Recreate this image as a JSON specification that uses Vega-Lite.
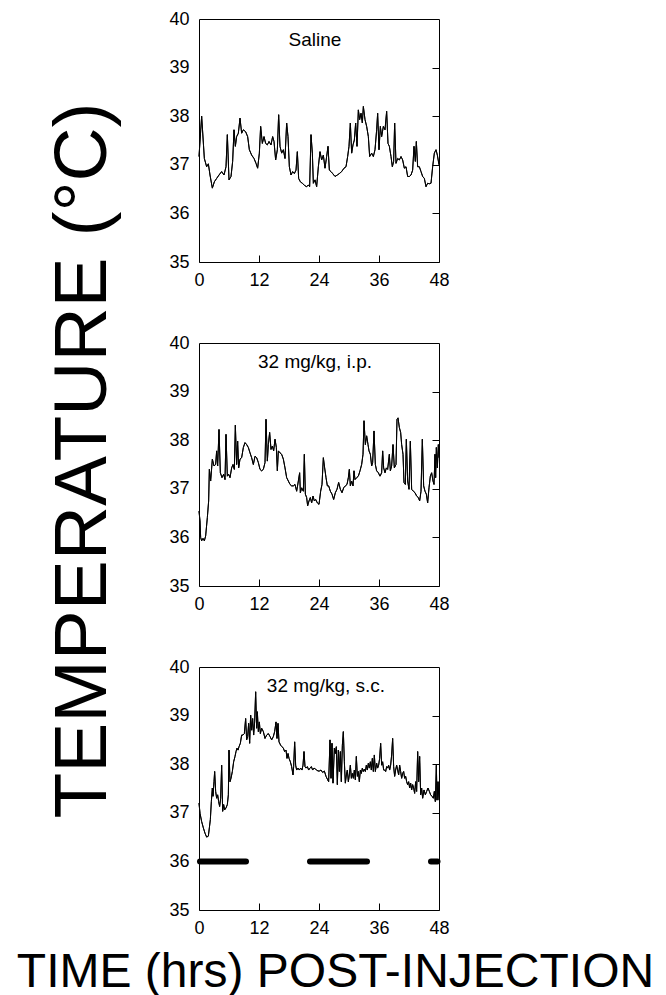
{
  "$schema": "https://vega.github.io/schema/vega-lite/v6.json",
  "autosize": {"type": "pad"},
  "padding": {"left": 15, "top": 9, "right": 5, "bottom": 0},
  "background": "white",
  "bounds": "flush",
  "spacing": 81,
  "datasets": {
    "p1": [
      {"hour":0,"temp":37.17},{"hour":0.53,"temp":38.0},{"hour":1.07,"temp":37.13},{"hour":1.53,"temp":36.96},{"hour":1.87,"temp":37.02},{"hour":2.2,"temp":36.79},{"hour":2.67,"temp":36.52},{"hour":3.07,"temp":36.65},{"hour":3.53,"temp":36.72},{"hour":4.0,"temp":36.79},{"hour":4.53,"temp":36.86},{"hour":5.0,"temp":36.79},{"hour":5.4,"temp":36.96},{"hour":5.67,"temp":37.62},{"hour":6.0,"temp":36.69},{"hour":6.4,"temp":36.76},{"hour":6.73,"temp":37.07},{"hour":7.0,"temp":37.72},{"hour":7.27,"temp":37.38},{"hour":7.53,"temp":37.58},{"hour":7.87,"temp":37.65},{"hour":8.2,"temp":37.96},{"hour":8.53,"temp":37.65},{"hour":8.87,"temp":37.72},{"hour":9.33,"temp":37.68},{"hour":9.73,"temp":37.58},{"hour":10.07,"temp":37.31},{"hour":10.53,"temp":37.2},{"hour":11.0,"temp":37.13},{"hour":11.4,"temp":37.03},{"hour":11.73,"temp":36.93},{"hour":12.07,"temp":37.24},{"hour":12.33,"temp":37.79},{"hour":12.67,"temp":37.44},{"hour":13.0,"temp":37.58},{"hour":13.33,"temp":37.44},{"hour":13.67,"temp":37.41},{"hour":14.0,"temp":37.48},{"hour":14.4,"temp":37.41},{"hour":14.73,"temp":37.58},{"hour":15.0,"temp":37.48},{"hour":15.33,"temp":37.1},{"hour":15.67,"temp":37.31},{"hour":15.93,"temp":38.03},{"hour":16.2,"temp":37.38},{"hour":16.53,"temp":37.24},{"hour":16.87,"temp":37.31},{"hour":17.2,"temp":37.13},{"hour":17.53,"temp":37.86},{"hour":17.8,"temp":37.58},{"hour":18.07,"temp":36.96},{"hour":18.4,"temp":36.79},{"hour":18.73,"temp":36.86},{"hour":19.07,"temp":36.82},{"hour":19.4,"temp":36.89},{"hour":19.67,"temp":37.27},{"hour":19.93,"temp":36.72},{"hour":20.27,"temp":36.65},{"hour":20.67,"temp":36.62},{"hour":21.07,"temp":36.58},{"hour":21.47,"temp":36.55},{"hour":21.87,"temp":36.58},{"hour":22.13,"temp":36.55},{"hour":22.4,"temp":37.62},{"hour":22.67,"temp":37.24},{"hour":22.87,"temp":36.62},{"hour":23.2,"temp":36.69},{"hour":23.53,"temp":36.55},{"hour":23.87,"temp":36.96},{"hour":24.2,"temp":37.27},{"hour":24.53,"temp":37.1},{"hour":24.87,"temp":37.2},{"hour":25.2,"temp":36.93},{"hour":25.53,"temp":37.17},{"hour":25.8,"temp":37.38},{"hour":26.07,"temp":36.89},{"hour":26.4,"temp":36.86},{"hour":26.73,"temp":36.82},{"hour":27.2,"temp":36.76},{"hour":27.67,"temp":36.79},{"hour":28.07,"temp":36.82},{"hour":28.53,"temp":36.86},{"hour":29.0,"temp":36.93},{"hour":29.4,"temp":36.96},{"hour":29.73,"temp":37.17},{"hour":30.0,"temp":37.38},{"hour":30.27,"temp":37.86},{"hour":30.53,"temp":37.24},{"hour":30.8,"temp":37.41},{"hour":31.07,"temp":37.51},{"hour":31.33,"temp":37.86},{"hour":31.6,"temp":37.38},{"hour":31.87,"temp":38.13},{"hour":32.13,"temp":37.93},{"hour":32.4,"temp":38.06},{"hour":32.67,"temp":37.86},{"hour":32.87,"temp":38.2},{"hour":33.2,"temp":37.93},{"hour":33.53,"temp":37.79},{"hour":33.87,"temp":37.58},{"hour":34.13,"temp":37.17},{"hour":34.53,"temp":37.24},{"hour":34.87,"temp":37.17},{"hour":35.2,"temp":37.31},{"hour":35.53,"temp":37.72},{"hour":35.73,"temp":38.06},{"hour":36.0,"temp":37.31},{"hour":36.27,"temp":37.79},{"hour":36.53,"temp":37.58},{"hour":36.87,"temp":37.79},{"hour":37.2,"temp":37.72},{"hour":37.53,"temp":38.1},{"hour":37.8,"temp":37.44},{"hour":38.07,"temp":37.38},{"hour":38.4,"temp":37.17},{"hour":38.67,"temp":36.96},{"hour":38.93,"temp":37.07},{"hour":39.13,"temp":37.86},{"hour":39.4,"temp":37.03},{"hour":39.73,"temp":37.13},{"hour":40.07,"temp":37.1},{"hour":40.4,"temp":37.17},{"hour":40.73,"temp":37.1},{"hour":41.07,"temp":36.93},{"hour":41.4,"temp":36.96},{"hour":41.73,"temp":36.76},{"hour":42.07,"temp":36.76},{"hour":42.4,"temp":36.79},{"hour":42.73,"temp":36.89},{"hour":43.0,"temp":37.38},{"hour":43.27,"temp":37.07},{"hour":43.47,"temp":37.48},{"hour":43.73,"temp":36.96},{"hour":44.07,"temp":36.96},{"hour":44.4,"temp":36.86},{"hour":44.73,"temp":36.76},{"hour":45.07,"temp":36.72},{"hour":45.4,"temp":36.55},{"hour":45.73,"temp":36.62},{"hour":46.07,"temp":36.61},{"hour":46.4,"temp":36.62},{"hour":46.73,"temp":36.96},{"hour":47.07,"temp":37.24},{"hour":47.4,"temp":37.31},{"hour":47.67,"temp":37.2},{"hour":48.0,"temp":37.0}
    ],
    "p2": [
      {"hour":0,"temp":36.54},{"hour":0.2,"temp":36.34},{"hour":0.33,"temp":36.0},{"hour":0.53,"temp":35.93},{"hour":0.8,"temp":35.98},{"hour":1.07,"temp":35.93},{"hour":1.33,"temp":36.03},{"hour":1.67,"temp":36.41},{"hour":1.93,"temp":36.75},{"hour":2.07,"temp":37.4},{"hour":2.33,"temp":37.16},{"hour":2.67,"temp":37.61},{"hour":3.0,"temp":37.47},{"hour":3.33,"temp":37.5},{"hour":3.53,"temp":37.78},{"hour":3.73,"temp":37.47},{"hour":4.0,"temp":38.22},{"hour":4.27,"temp":37.33},{"hour":4.6,"temp":37.23},{"hour":4.93,"temp":37.3},{"hour":5.2,"temp":37.19},{"hour":5.4,"temp":38.12},{"hour":5.67,"temp":37.26},{"hour":5.93,"temp":37.3},{"hour":6.2,"temp":37.23},{"hour":6.53,"temp":37.43},{"hour":6.8,"temp":37.5},{"hour":7.07,"temp":37.4},{"hour":7.27,"temp":38.31},{"hour":7.53,"temp":37.5},{"hour":7.73,"temp":37.98},{"hour":7.93,"temp":37.43},{"hour":8.2,"temp":37.61},{"hour":8.53,"temp":37.64},{"hour":8.87,"temp":37.85},{"hour":9.2,"temp":37.95},{"hour":9.53,"temp":37.91},{"hour":9.87,"temp":37.85},{"hour":10.2,"temp":37.74},{"hour":10.53,"temp":37.64},{"hour":10.87,"temp":37.5},{"hour":11.2,"temp":37.67},{"hour":11.53,"temp":37.64},{"hour":11.87,"temp":37.54},{"hour":12.2,"temp":37.4},{"hour":12.53,"temp":37.37},{"hour":12.87,"temp":37.4},{"hour":13.2,"temp":37.54},{"hour":13.4,"temp":38.43},{"hour":13.67,"temp":37.57},{"hour":13.87,"temp":37.91},{"hour":14.13,"temp":38.16},{"hour":14.4,"temp":37.81},{"hour":14.67,"temp":37.88},{"hour":14.93,"temp":37.78},{"hour":15.2,"temp":38.02},{"hour":15.47,"temp":37.85},{"hour":15.67,"temp":37.37},{"hour":15.87,"temp":37.78},{"hour":16.2,"temp":37.74},{"hour":16.53,"temp":37.71},{"hour":16.87,"temp":37.61},{"hour":17.2,"temp":37.43},{"hour":17.53,"temp":37.23},{"hour":17.87,"temp":37.16},{"hour":18.2,"temp":37.09},{"hour":18.53,"temp":37.06},{"hour":18.87,"temp":37.06},{"hour":19.2,"temp":37.09},{"hour":19.53,"temp":36.95},{"hour":19.87,"temp":37.16},{"hour":20.13,"temp":37.33},{"hour":20.27,"temp":36.92},{"hour":20.53,"temp":37.02},{"hour":20.87,"temp":36.95},{"hour":21.07,"temp":37.71},{"hour":21.27,"temp":36.89},{"hour":21.53,"temp":36.82},{"hour":21.73,"temp":36.65},{"hour":22.0,"temp":36.75},{"hour":22.27,"temp":36.82},{"hour":22.53,"temp":36.71},{"hour":22.8,"temp":36.85},{"hour":23.07,"temp":36.75},{"hour":23.33,"temp":36.78},{"hour":23.67,"temp":36.71},{"hour":24.0,"temp":36.68},{"hour":24.33,"temp":36.95},{"hour":24.6,"temp":37.09},{"hour":24.87,"temp":37.64},{"hour":25.13,"temp":37.43},{"hour":25.4,"temp":37.23},{"hour":25.67,"temp":37.06},{"hour":25.93,"temp":37.06},{"hour":26.27,"temp":36.95},{"hour":26.6,"temp":36.89},{"hour":26.93,"temp":36.78},{"hour":27.27,"temp":36.92},{"hour":27.6,"temp":36.99},{"hour":27.93,"temp":37.13},{"hour":28.27,"temp":36.99},{"hour":28.6,"temp":36.92},{"hour":28.93,"temp":37.02},{"hour":29.27,"temp":37.06},{"hour":29.6,"temp":37.09},{"hour":29.87,"temp":37.23},{"hour":30.07,"temp":37.4},{"hour":30.27,"temp":37.06},{"hour":30.53,"temp":37.16},{"hour":30.8,"temp":37.06},{"hour":31.0,"temp":37.37},{"hour":31.2,"temp":37.19},{"hour":31.53,"temp":37.23},{"hour":31.87,"temp":37.26},{"hour":32.2,"temp":37.37},{"hour":32.53,"temp":37.5},{"hour":32.8,"temp":37.71},{"hour":33.0,"temp":38.4},{"hour":33.27,"temp":37.91},{"hour":33.53,"temp":38.09},{"hour":33.8,"temp":37.91},{"hour":34.0,"temp":37.78},{"hour":34.27,"temp":37.71},{"hour":34.53,"temp":37.47},{"hour":34.73,"temp":37.54},{"hour":35.0,"temp":38.19},{"hour":35.27,"temp":37.5},{"hour":35.53,"temp":37.37},{"hour":35.87,"temp":37.33},{"hour":36.2,"temp":37.26},{"hour":36.53,"temp":37.33},{"hour":36.73,"temp":37.78},{"hour":36.93,"temp":37.43},{"hour":37.2,"temp":37.33},{"hour":37.47,"temp":37.43},{"hour":37.73,"temp":37.4},{"hour":38.07,"temp":37.71},{"hour":38.27,"temp":37.37},{"hour":38.53,"temp":37.47},{"hour":38.8,"temp":37.91},{"hour":39.07,"temp":37.43},{"hour":39.4,"temp":37.5},{"hour":39.6,"temp":38.43},{"hour":39.8,"temp":38.46},{"hour":40.07,"temp":38.26},{"hour":40.33,"temp":38.16},{"hour":40.53,"temp":37.91},{"hour":40.8,"temp":37.71},{"hour":41.0,"temp":37.13},{"hour":41.27,"temp":37.09},{"hour":41.47,"temp":38.02},{"hour":41.73,"temp":37.16},{"hour":42.0,"temp":36.99},{"hour":42.27,"temp":37.98},{"hour":42.53,"temp":36.99},{"hour":42.87,"temp":36.95},{"hour":43.2,"temp":36.92},{"hour":43.53,"temp":36.85},{"hour":43.87,"temp":36.82},{"hour":44.13,"temp":36.75},{"hour":44.4,"temp":36.95},{"hour":44.67,"temp":38.02},{"hour":44.93,"temp":37.06},{"hour":45.2,"temp":36.95},{"hour":45.47,"temp":36.89},{"hour":45.73,"temp":36.71},{"hour":46.0,"temp":37.02},{"hour":46.27,"temp":37.26},{"hour":46.53,"temp":37.33},{"hour":46.8,"temp":37.16},{"hour":47.0,"temp":37.09},{"hour":47.2,"temp":37.71},{"hour":47.33,"temp":37.23},{"hour":47.47,"temp":37.85},{"hour":47.67,"temp":37.43},{"hour":47.87,"temp":37.91},{"hour":48.0,"temp":37.64}
    ],
    "p3": [
      {"hour":0,"temp":37.2},{"hour":0.2,"temp":36.99},{"hour":0.53,"temp":36.82},{"hour":0.87,"temp":36.69},{"hour":1.2,"temp":36.58},{"hour":1.53,"temp":36.5},{"hour":1.87,"temp":36.52},{"hour":2.07,"temp":36.69},{"hour":2.27,"temp":36.86},{"hour":2.47,"temp":37.23},{"hour":2.67,"temp":37.51},{"hour":2.8,"temp":37.34},{"hour":3.0,"temp":37.64},{"hour":3.13,"temp":37.85},{"hour":3.33,"temp":37.44},{"hour":3.53,"temp":37.3},{"hour":3.73,"temp":37.37},{"hour":3.93,"temp":37.23},{"hour":4.13,"temp":37.13},{"hour":4.33,"temp":37.3},{"hour":4.53,"temp":37.98},{"hour":4.73,"temp":37.03},{"hour":4.93,"temp":37.17},{"hour":5.13,"temp":37.06},{"hour":5.4,"temp":37.1},{"hour":5.67,"temp":37.17},{"hour":5.87,"temp":37.37},{"hour":6.0,"temp":38.29},{"hour":6.2,"temp":37.64},{"hour":6.4,"temp":37.71},{"hour":6.67,"temp":37.85},{"hour":6.93,"temp":38.05},{"hour":7.2,"temp":38.16},{"hour":7.4,"temp":38.26},{"hour":7.6,"temp":38.33},{"hour":7.8,"temp":38.29},{"hour":8.0,"temp":38.36},{"hour":8.27,"temp":38.43},{"hour":8.53,"temp":38.6},{"hour":8.8,"temp":38.6},{"hour":9.07,"temp":38.63},{"hour":9.33,"temp":38.94},{"hour":9.53,"temp":38.5},{"hour":9.73,"temp":38.57},{"hour":9.93,"temp":38.84},{"hour":10.13,"temp":38.43},{"hour":10.33,"temp":39.01},{"hour":10.53,"temp":38.7},{"hour":10.73,"temp":38.94},{"hour":10.93,"temp":38.6},{"hour":11.13,"temp":38.87},{"hour":11.33,"temp":39.49},{"hour":11.53,"temp":38.74},{"hour":11.67,"temp":39.08},{"hour":11.87,"temp":38.67},{"hour":12.07,"temp":38.87},{"hour":12.27,"temp":38.63},{"hour":12.53,"temp":38.74},{"hour":12.87,"temp":38.67},{"hour":13.2,"temp":38.53},{"hour":13.53,"temp":38.6},{"hour":13.87,"temp":38.63},{"hour":14.2,"temp":38.57},{"hour":14.53,"temp":38.5},{"hour":14.87,"temp":38.57},{"hour":15.13,"temp":38.67},{"hour":15.4,"temp":38.87},{"hour":15.6,"temp":38.53},{"hour":15.8,"temp":38.84},{"hour":16.0,"temp":38.46},{"hour":16.33,"temp":38.39},{"hour":16.6,"temp":38.36},{"hour":16.87,"temp":38.33},{"hour":17.13,"temp":38.26},{"hour":17.4,"temp":38.29},{"hour":17.6,"temp":38.12},{"hour":17.8,"temp":38.22},{"hour":18.0,"temp":38.12},{"hour":18.27,"temp":38.05},{"hour":18.53,"temp":37.95},{"hour":18.8,"temp":37.78},{"hour":18.93,"temp":37.95},{"hour":19.13,"temp":38.46},{"hour":19.33,"temp":37.98},{"hour":19.53,"temp":37.88},{"hour":19.8,"temp":37.92},{"hour":20.07,"temp":37.88},{"hour":20.33,"temp":37.92},{"hour":20.6,"temp":37.88},{"hour":20.8,"temp":37.98},{"hour":21.0,"temp":38.26},{"hour":21.2,"temp":37.95},{"hour":21.4,"temp":37.92},{"hour":21.67,"temp":37.95},{"hour":21.93,"temp":37.88},{"hour":22.2,"temp":37.92},{"hour":22.47,"temp":37.95},{"hour":22.73,"temp":37.88},{"hour":23.0,"temp":37.92},{"hour":23.27,"temp":37.9},{"hour":23.53,"temp":37.88},{"hour":23.8,"temp":37.86},{"hour":24.07,"temp":37.86},{"hour":24.4,"temp":37.88},{"hour":24.73,"temp":37.83},{"hour":25.07,"temp":37.86},{"hour":25.4,"temp":37.75},{"hour":25.73,"temp":37.68},{"hour":25.93,"temp":37.64},{"hour":26.2,"temp":38.5},{"hour":26.4,"temp":37.71},{"hour":26.6,"temp":38.43},{"hour":26.8,"temp":37.61},{"hour":27.07,"temp":38.33},{"hour":27.27,"temp":38.22},{"hour":27.47,"temp":38.36},{"hour":27.67,"temp":37.58},{"hour":27.87,"temp":38.29},{"hour":28.07,"temp":37.85},{"hour":28.27,"temp":38.26},{"hour":28.47,"temp":37.64},{"hour":28.67,"temp":38.39},{"hour":28.87,"temp":38.67},{"hour":29.07,"temp":38.05},{"hour":29.27,"temp":37.61},{"hour":29.47,"temp":37.78},{"hour":29.67,"temp":37.88},{"hour":29.87,"temp":37.64},{"hour":30.07,"temp":37.78},{"hour":30.27,"temp":37.98},{"hour":30.47,"temp":37.71},{"hour":30.67,"temp":37.81},{"hour":30.87,"temp":37.71},{"hour":31.07,"temp":37.88},{"hour":31.27,"temp":37.68},{"hour":31.47,"temp":38.16},{"hour":31.67,"temp":37.75},{"hour":31.87,"temp":37.85},{"hour":32.07,"temp":37.64},{"hour":32.27,"temp":37.88},{"hour":32.47,"temp":37.81},{"hour":32.67,"temp":37.92},{"hour":32.87,"temp":37.85},{"hour":33.07,"temp":37.9},{"hour":33.27,"temp":37.85},{"hour":33.47,"temp":37.98},{"hour":33.67,"temp":37.88},{"hour":33.87,"temp":38.02},{"hour":34.07,"temp":37.92},{"hour":34.27,"temp":38.05},{"hour":34.47,"temp":37.88},{"hour":34.67,"temp":38.12},{"hour":34.87,"temp":37.85},{"hour":35.07,"temp":38.19},{"hour":35.27,"temp":37.85},{"hour":35.53,"temp":38.02},{"hour":35.73,"temp":37.92},{"hour":35.93,"temp":37.98},{"hour":36.13,"temp":38.12},{"hour":36.33,"temp":38.43},{"hour":36.53,"temp":37.98},{"hour":36.73,"temp":38.05},{"hour":36.93,"temp":37.88},{"hour":37.13,"temp":37.88},{"hour":37.33,"temp":37.85},{"hour":37.53,"temp":37.95},{"hour":37.73,"temp":37.92},{"hour":37.93,"temp":37.98},{"hour":38.13,"temp":37.88},{"hour":38.33,"temp":37.98},{"hour":38.53,"temp":38.19},{"hour":38.73,"temp":38.53},{"hour":38.93,"temp":37.95},{"hour":39.13,"temp":37.75},{"hour":39.33,"temp":37.88},{"hour":39.53,"temp":37.98},{"hour":39.73,"temp":37.88},{"hour":39.93,"temp":37.78},{"hour":40.13,"temp":37.98},{"hour":40.33,"temp":37.85},{"hour":40.53,"temp":37.71},{"hour":40.73,"temp":37.81},{"hour":40.93,"temp":37.85},{"hour":41.13,"temp":37.71},{"hour":41.33,"temp":37.75},{"hour":41.53,"temp":37.64},{"hour":41.73,"temp":37.58},{"hour":41.93,"temp":37.64},{"hour":42.13,"temp":37.51},{"hour":42.33,"temp":37.61},{"hour":42.53,"temp":37.47},{"hour":42.73,"temp":37.58},{"hour":42.93,"temp":37.51},{"hour":43.13,"temp":37.4},{"hour":43.33,"temp":37.64},{"hour":43.53,"temp":37.44},{"hour":43.73,"temp":38.26},{"hour":43.93,"temp":37.64},{"hour":44.13,"temp":38.16},{"hour":44.33,"temp":37.37},{"hour":44.53,"temp":37.51},{"hour":44.73,"temp":37.3},{"hour":45.0,"temp":37.47},{"hour":45.27,"temp":37.37},{"hour":45.53,"temp":37.44},{"hour":45.8,"temp":37.51},{"hour":46.07,"temp":37.44},{"hour":46.33,"temp":37.37},{"hour":46.6,"temp":37.34},{"hour":46.87,"temp":37.3},{"hour":47.07,"temp":37.44},{"hour":47.27,"temp":37.23},{"hour":47.47,"temp":37.98},{"hour":47.6,"temp":37.26},{"hour":47.8,"temp":37.64},{"hour":48.0,"temp":37.26}
    ],
    "dark": [
      {"start":0.2,"end":9.4},{"start":22.2,"end":33.6},{"start":46.4,"end":47.7}
    ]
  },
  "vconcat": [
    {
      "width": 240, "height": 243,
      "data": {"name": "p1"},
      "layer": [
        {"mark": {"type": "line", "color": "black", "strokeWidth": 1},
         "encoding": {
           "x": {"field": "hour", "type": "quantitative", "scale": {"domain": [0, 48], "nice": false, "zero": false}, "axis": {"title": null, "values": [0, 12, 24, 36, 48]}},
           "y": {"field": "temp", "type": "quantitative", "scale": {"domain": [35, 40], "nice": false, "zero": false}, "axis": {"title": null, "values": [35, 36, 37, 38, 39, 40], "ticks": false, "labelPadding": 10}}}},
        {"mark": {"type": "line", "color": "black", "strokeWidth": 1},
         "encoding": {
           "x": {"field": "hour", "type": "quantitative", "scale": {"domain": [0, 48], "nice": false, "zero": false}, "axis": {"title": null, "values": [0, 12, 24, 36, 48]}},
           "y": {"field": "temp", "type": "quantitative", "scale": {"domain": [35, 40], "nice": false, "zero": false}, "axis": {"title": null, "orient": "right", "values": [36, 37, 38, 39], "labels": false, "tickSize": -7}}}},
        {"data": {"values": [{"label": "Saline"}]},
         "mark": {"type": "text", "color": "black", "font": "Liberation Sans", "fontSize": 19, "baseline": "alphabetic", "align": "center", "dx": -4},
         "encoding": {
           "text": {"field": "label"},
           "x": {"datum": 24, "type": "quantitative", "scale": {"domain": [0, 48], "nice": false, "zero": false}, "axis": {"title": null, "values": [0, 12, 24, 36, 48]}},
           "y": {"datum": 39.44, "type": "quantitative", "scale": {"domain": [35, 40], "nice": false, "zero": false}, "axis": null}}}
      ],
      "resolve": {"axis": {"y": "independent"}}
    },
    {
      "width": 240, "height": 243,
      "data": {"name": "p2"},
      "layer": [
        {"mark": {"type": "line", "color": "black", "strokeWidth": 1},
         "encoding": {
           "x": {"field": "hour", "type": "quantitative", "scale": {"domain": [0, 48], "nice": false, "zero": false}, "axis": {"title": null, "values": [0, 12, 24, 36, 48]}},
           "y": {"field": "temp", "type": "quantitative", "scale": {"domain": [35, 40], "nice": false, "zero": false}, "axis": {"title": "TEMPERATURE (°C)", "titleFontSize": 75, "titleAngle": 270, "titleX": -94, "titleY": 117, "titleBaseline": "alphabetic", "titleAlign": "center", "values": [35, 36, 37, 38, 39, 40], "ticks": false, "labelPadding": 10}}}},
        {"mark": {"type": "line", "color": "black", "strokeWidth": 1},
         "encoding": {
           "x": {"field": "hour", "type": "quantitative", "scale": {"domain": [0, 48], "nice": false, "zero": false}, "axis": {"title": null, "values": [0, 12, 24, 36, 48]}},
           "y": {"field": "temp", "type": "quantitative", "scale": {"domain": [35, 40], "nice": false, "zero": false}, "axis": {"title": null, "orient": "right", "values": [36, 37, 38, 39], "labels": false, "tickSize": -7}}}},
        {"data": {"values": [{"label": "32 mg/kg, i.p."}]},
         "mark": {"type": "text", "color": "black", "font": "Liberation Sans", "fontSize": 19, "baseline": "alphabetic", "align": "center", "dx": -4},
         "encoding": {
           "text": {"field": "label"},
           "x": {"datum": 24, "type": "quantitative", "scale": {"domain": [0, 48], "nice": false, "zero": false}, "axis": {"title": null, "values": [0, 12, 24, 36, 48]}},
           "y": {"datum": 39.49, "type": "quantitative", "scale": {"domain": [35, 40], "nice": false, "zero": false}, "axis": null}}}
      ],
      "resolve": {"axis": {"y": "independent"}}
    },
    {
      "width": 240, "height": 243,
      "data": {"name": "p3"},
      "layer": [
        {"mark": {"type": "line", "color": "black", "strokeWidth": 1},
         "encoding": {
           "x": {"field": "hour", "type": "quantitative", "scale": {"domain": [0, 48], "nice": false, "zero": false}, "axis": {"title": "TIME (hrs) POST-INJECTION", "titleFontSize": 48, "titleX": 136, "titleY": 76, "titleBaseline": "alphabetic", "titleAlign": "center", "values": [0, 12, 24, 36, 48]}},
           "y": {"field": "temp", "type": "quantitative", "scale": {"domain": [35, 40], "nice": false, "zero": false}, "axis": {"title": null, "values": [35, 36, 37, 38, 39, 40], "ticks": false, "labelPadding": 10}}}},
        {"mark": {"type": "line", "color": "black", "strokeWidth": 1},
         "encoding": {
           "x": {"field": "hour", "type": "quantitative", "scale": {"domain": [0, 48], "nice": false, "zero": false}, "axis": {"title": "TIME (hrs) POST-INJECTION", "titleFontSize": 48, "titleX": 136, "titleY": 76, "titleBaseline": "alphabetic", "titleAlign": "center", "values": [0, 12, 24, 36, 48]}},
           "y": {"field": "temp", "type": "quantitative", "scale": {"domain": [35, 40], "nice": false, "zero": false}, "axis": {"title": null, "orient": "right", "values": [36, 37, 38, 39], "labels": false, "tickSize": -7}}}},
        {"data": {"name": "dark"},
         "mark": {"type": "rule", "color": "black", "strokeWidth": 6, "strokeCap": "round"},
         "encoding": {
           "x": {"field": "start", "type": "quantitative", "scale": {"domain": [0, 48], "nice": false, "zero": false}, "axis": {"title": "TIME (hrs) POST-INJECTION", "titleFontSize": 48, "titleX": 136, "titleY": 76, "titleBaseline": "alphabetic", "titleAlign": "center", "values": [0, 12, 24, 36, 48]}},
           "x2": {"field": "end"},
           "y": {"datum": 36, "type": "quantitative", "scale": {"domain": [35, 40], "nice": false, "zero": false}, "axis": null}}},
        {"data": {"values": [{"label": "32 mg/kg, s.c."}]},
         "mark": {"type": "text", "color": "black", "font": "Liberation Sans", "fontSize": 19, "baseline": "alphabetic", "align": "center", "dx": 7},
         "encoding": {
           "text": {"field": "label"},
           "x": {"datum": 24, "type": "quantitative", "scale": {"domain": [0, 48], "nice": false, "zero": false}, "axis": {"title": "TIME (hrs) POST-INJECTION", "titleFontSize": 48, "titleX": 136, "titleY": 76, "titleBaseline": "alphabetic", "titleAlign": "center", "values": [0, 12, 24, 36, 48]}},
           "y": {"datum": 39.49, "type": "quantitative", "scale": {"domain": [35, 40], "nice": false, "zero": false}, "axis": null}}}
      ],
      "resolve": {"axis": {"y": "independent"}}
    }
  ],
  "config": {
    "view": {"stroke": "black", "strokeWidth": 1},
    "font": "Liberation Sans",
    "axis": {"domain": false, "grid": false, "labelFont": "Liberation Sans", "labelFontSize": 18, "labelColor": "black", "tickColor": "black", "labelFlush": false, "labelOverlap": false, "titleFont": "Liberation Sans", "titleFontWeight": "normal", "titleColor": "black"},
    "axisX": {"tickSize": -7, "labelPadding": 16}
  }
}
